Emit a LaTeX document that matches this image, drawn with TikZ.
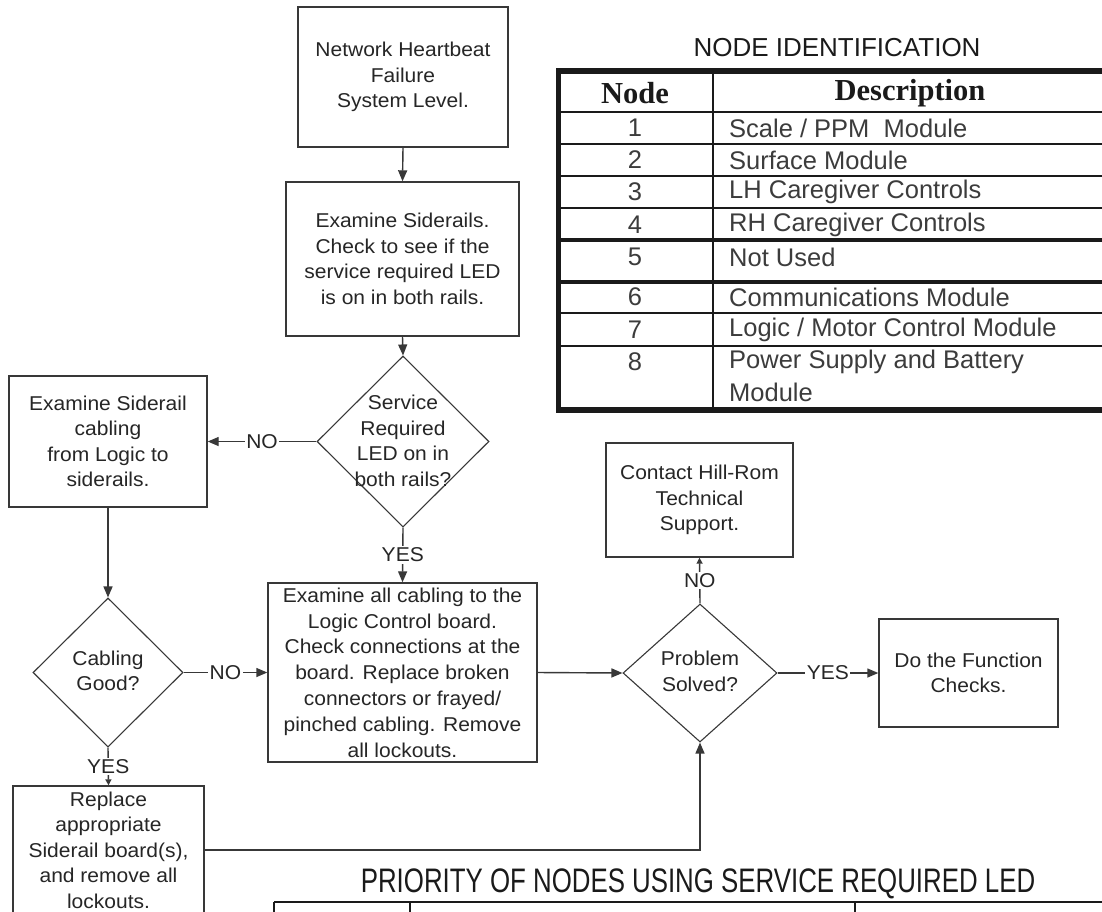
\documentclass[tikz,border=0pt]{standalone}
\usepackage{fontspec}
\setmainfont{Liberation Sans}
\newfontfamily\flowfont[FakeStretch=1.05]{Liberation Sans}
\newfontfamily\headfont{Liberation Serif}
\newfontfamily\bannerfont[FakeStretch=0.76]{Liberation Sans}
\usetikzlibrary{shapes.geometric,arrows.meta}

\definecolor{linec}{HTML}{383838}
\definecolor{textc}{HTML}{262626}
\definecolor{tabc}{HTML}{1A1A1A}
\definecolor{tabtext}{HTML}{3C3C3C}

\newcommand{\flowtext}{\flowfont\fontsize{20}{25.5}\selectfont}
\newcommand{\tabtextfont}{\fontsize{25.5}{30}\selectfont}

\begin{document}
\begin{tikzpicture}[x=1pt,y=-1pt,
  box/.style={draw=linec, line width=1.4pt, fill=white, align=center,
    inner sep=0pt, font=\flowtext, text=textc},
  dia/.style={draw=linec, shape=diamond, line width=1.1pt, inner sep=0pt},
  dtext/.style={align=center, inner sep=0pt, font=\flowtext, text=textc},
  flow/.style={draw=linec, line width=1.4pt, -{Triangle[length=11pt,width=9pt]}},
  flowsmall/.style={draw=linec, line width=1.4pt, -{Triangle[length=6pt,width=6pt]}},
  lbl/.style={fill=white, inner sep=1.5pt, font=\flowtext, text=textc},
  rule/.style={draw=tabc, line width=1.5pt},
  rulethick/.style={draw=tabc, line width=3.5pt},
  numcell/.style={inner sep=0pt, font=\tabtextfont, text=tabtext},
  desccell/.style={anchor=west, inner sep=0pt, font=\tabtextfont, text=tabtext},
  headcell/.style={inner sep=0pt, font=\headfont\bfseries\fontsize{30.5}{34}\selectfont, text=tabc}
]
\useasboundingbox (0,0) rectangle (1102,911);
\fill[white] (0,0) rectangle (1102,911);
\clip (0,0) rectangle (1102,911);

% ---------- flowchart boxes ----------
\node[box, minimum width=210pt, minimum height=140pt] (start) at (403,77)
  {Network Heartbeat\\Failure\\System Level.};
\node[box, minimum width=233pt, minimum height=154pt] (rails) at (402.5,259)
  {Examine Siderails.\\Check to see if the\\service required LED\\is on in both rails.};

\node[dia, minimum width=172pt, minimum height=171pt] (svc) at (403,441.5) {};
\node[dtext] (svctext) at (403,441) {Service\\Required\\LED on in\\both rails?};

\node[box, minimum width=198pt, minimum height=131pt] (cabling) at (108,441.5)
  {Examine Siderail\\cabling\\from Logic to\\siderails.};

\node[dia, minimum width=150pt, minimum height=149pt] (good) at (108,672.5) {};
\node[dtext] (goodtext) at (108,671) {Cabling\\Good?};

\node[box, minimum width=269pt, minimum height=179pt, font=\flowfont\fontsize{20}{25.8}\selectfont]
  (logic) at (402.5,672.5)
  {Examine all cabling to the\\Logic Control board.\\Check connections at the\\board. Replace broken\\connectors or frayed/\\pinched cabling. Remove\\all lockouts.};

% the lower part of this box runs past the bottom edge
\node[box, minimum width=191pt, minimum height=128pt] (replace) at (108.5,850)
  {Replace\\appropriate\\Siderail board(s),\\and remove all\\lockouts.};

\node[dia, minimum width=154pt, minimum height=138pt] (solved) at (700,673) {};
\node[dtext] (solvedtext) at (700,671.5) {Problem\\Solved?};

\node[box, minimum width=187pt, minimum height=114pt] (support) at (699.5,500)
  {Contact Hill-Rom\\Technical\\Support.};
\node[box, minimum width=179pt, minimum height=108pt] (checks) at (968.5,673)
  {Do the Function\\Checks.};

% ---------- connectors ----------
\draw[flow] (start.south) -- (rails.north);
\draw[flow] (rails.south) -- (svc.north);
\draw[flow] (svc.west) -- node[lbl] {NO} (cabling.east);
\draw[flow] (svc.south) -- node[lbl] {YES} (logic.north);
\draw[flow] (cabling.south) -- (good.north);
\draw[flow] (good.east) -- node[lbl] {NO} (logic.west);
\draw[flowsmall] (good.south) -- node[lbl] {YES} (replace.north);
\draw[flow] (logic.east) -- (solved.west);
\draw[flow] (replace.east) -| (solved.south);
\draw[flowsmall] (solved.north) -- node[lbl] {NO} (support.south);
\draw[flow] (solved.east) -- node[lbl] {YES} (checks.west);

% ---------- node identification table ----------
\node[inner sep=0pt, font=\fontsize{26}{30}\selectfont, text=tabc] (nodetitle) at (837,48)
  {NODE IDENTIFICATION};

\draw[rule] (558.5,112) -- (1115,112);
\draw[rule] (558.5,144) -- (1115,144);
\draw[rule] (558.5,176) -- (1115,176);
\draw[rule] (558.5,208) -- (1115,208);
\draw[rulethick] (558.5,240) -- (1115,240);
\draw[rulethick] (558.5,282) -- (1115,282);
\draw[rule] (558.5,313) -- (1115,313);
\draw[rule] (558.5,346) -- (1115,346);
\draw[rule] (713,71) -- (713,410);
\draw[draw=tabc, line width=5.5pt] (558.5,71) rectangle (1118,410);

\node[headcell] (hnode) at (635,93) {Node};
\node[headcell] (hdesc) at (910,93) {Description};

\node[numcell] (n1) at (635,128) {1};
\node[numcell] (n2) at (635,160) {2};
\node[numcell] (n3) at (635,192) {3};
\node[numcell] (n4) at (635,224.5) {4};
\node[numcell] (n5) at (635,257) {5};
\node[numcell] (n6) at (635,297) {6};
\node[numcell] (n7) at (635,330) {7};
\node[numcell] (n8) at (635,362) {8};

\node[desccell] (d1) at (729,128) {Scale / PPM\ \ Module};
\node[desccell] (d2) at (729,160) {Surface Module};
\node[desccell] (d3) at (729,192) {LH Caregiver Controls};
\node[desccell] (d4) at (729,224.5) {RH Caregiver Controls};
\node[desccell] (d5) at (729,257) {Not Used};
\node[desccell] (d6) at (729,297) {Communications Module};
\node[desccell] (d7) at (729,330) {Logic / Motor Control Module};
\node[desccell] (d8) at (729,362) {Power Supply and Battery};
\node[desccell] (d8b) at (729,392) {Module};

% ---------- priority table (top edge only) ----------
\node[inner sep=0pt, font=\bannerfont\fontsize{34}{38}\selectfont, text=tabc] (prititle) at (698,884)
  {PRIORITY OF NODES USING SERVICE REQUIRED LED};
\draw[rule] (274,902) -- (1115,902);
\draw[rule] (274,902) -- (274,920);
\draw[rule] (410,902) -- (410,920);
\draw[rule] (855,902) -- (855,920);
\end{tikzpicture}
\end{document}
